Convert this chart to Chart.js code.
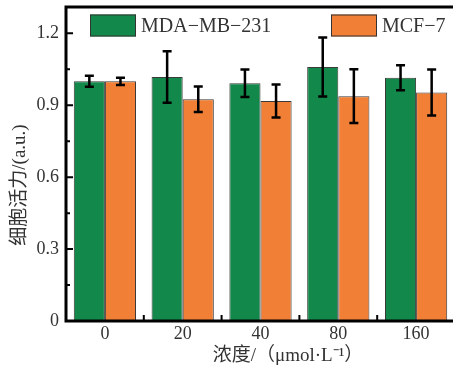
<!DOCTYPE html>
<html>
<head>
<meta charset="utf-8">
<script src="https://cdn.jsdelivr.net/npm/chart.js@4/dist/chart.umd.min.js"></script>
<style>
  html, body { margin: 0; padding: 0; background: #fff; overflow: hidden; }
  #wrap { width: 453px; height: 369px; overflow: hidden; }
  canvas { display: block; }
</style>
</head>
<body>
<div id="wrap"><canvas id="c" width="458" height="369"></canvas></div>
<script>
// Concentrations (µmol/L) and cell viability for each cell line
const categories = ['0', '20', '40', '80', '160'];
const seriesNames = ['MDA\u2212MB\u2212231', 'MCF\u22127'];
const mdaValues = [1.000, 1.018, 0.992, 1.060, 1.015];
const mdaErrors = [0.023, 0.107, 0.057, 0.123, 0.052];
const mcfValues = [1.000, 0.925, 0.918, 0.938, 0.953];
const mcfErrors = [0.015, 0.053, 0.069, 0.112, 0.096];
const yTicks = [0, 0.3, 0.6, 0.9, 1.2];
const yTickLabels = ['0', '0.3', '0.6', '0.9', '1.2'];
const yMinorTicks = [0.15, 0.45, 0.75, 1.05];
const xTitle = '浓度/（μmol·L⁻¹）';
const yTitle = '细胞活力/(a.u.)';

const GREEN = '#12894a';
const ORANGE = '#f17f36';
const TEXT = '#333333';
const FONT = "'Liberation Serif', 'Noto Sans CJK SC', serif";

const errorSets = [mdaErrors, mcfErrors];

// Error bars on top of each bar
const errorBars = {
  id: 'errorBars',
  afterDatasetsDraw(chart) {
    const { ctx } = chart;
    const y = chart.scales.y;
    ctx.save();
    ctx.strokeStyle = '#000';
    ctx.lineWidth = 2.5;
    chart.data.datasets.forEach((ds, i) => {
      const meta = chart.getDatasetMeta(i);
      meta.data.forEach((bar, j) => {
        const v = ds.data[j], e = errorSets[i][j];
        const top = y.getPixelForValue(v + e);
        const bot = y.getPixelForValue(v - e);
        ctx.beginPath();
        ctx.moveTo(bar.x, top); ctx.lineTo(bar.x, bot);
        ctx.moveTo(bar.x - 4.5, top); ctx.lineTo(bar.x + 4.5, top);
        ctx.moveTo(bar.x - 4.5, bot); ctx.lineTo(bar.x + 4.5, bot);
        ctx.stroke();
      });
    });
    ctx.restore();
  }
};

// Plot frame, inward ticks, in-plot legend and axis titles
const decorations = {
  id: 'decorations',
  afterDraw(chart) {
    const { ctx, chartArea: a } = chart;
    const x = chart.scales.x, y = chart.scales.y;
    ctx.save();
    ctx.strokeStyle = '#000';
    ctx.lineWidth = 2;
    ctx.beginPath();
    yTicks.forEach(v => {
      const p = y.getPixelForValue(v);
      ctx.moveTo(a.left, p); ctx.lineTo(a.left + 7, p);
    });
    yMinorTicks.forEach(v => {
      const p = y.getPixelForValue(v);
      ctx.moveTo(a.left, p); ctx.lineTo(a.left + 4, p);
    });
    for (let i = 0; i < categories.length - 1; i++) {
      const p = (x.getPixelForValue(i) + x.getPixelForValue(i + 1)) / 2;
      ctx.moveTo(p, a.bottom); ctx.lineTo(p, a.bottom - 6);
    }
    ctx.stroke();

    ctx.lineWidth = 3;
    ctx.beginPath();
    ctx.moveTo(a.left, a.top); ctx.lineTo(a.right, a.top);
    ctx.lineTo(a.right, a.bottom); ctx.lineTo(a.left, a.bottom);
    ctx.closePath();
    ctx.stroke();

    // legend
    const items = [
      { x: a.left + 24, color: GREEN, text: seriesNames[0] },
      { x: a.left + 265, color: ORANGE, text: seriesNames[1] }
    ];
    ctx.lineWidth = 1;
    ctx.font = '20px ' + FONT;
    ctx.textBaseline = 'alphabetic';
    ctx.textAlign = 'left';
    items.forEach(it => {
      ctx.fillStyle = it.color;
      ctx.fillRect(it.x, a.top + 7.5, 46, 22);
      ctx.strokeStyle = '#333';
      ctx.strokeRect(it.x + 0.5, a.top + 8, 45, 21);
      ctx.fillStyle = TEXT;
      ctx.fillText(it.text, it.x + 51, a.top + 25);
    });

    // axis titles
    ctx.fillStyle = TEXT;
    ctx.font = '19px ' + FONT;
    ctx.textAlign = 'center';
    ctx.textBaseline = 'middle';
    ctx.fillText(xTitle, a.left + 222, a.bottom + 35);

    ctx.save();
    ctx.translate(20, (a.top + a.bottom) / 2 + 21);
    ctx.rotate(-Math.PI / 2);
    ctx.font = '19px ' + FONT;
    ctx.fillText(yTitle, 0, 0);
    ctx.restore();
    ctx.restore();
  }
};

function noEdgePadding(s) {
  s.paddingTop = 0; s.paddingBottom = 0;
  s.paddingLeft = 0; s.paddingRight = 0;
}

new Chart(document.getElementById('c'), {
  type: 'bar',
  data: {
    labels: categories,
    datasets: [
      { label: seriesNames[0], data: mdaValues, backgroundColor: GREEN,
        borderColor: '#3a3a3a', borderWidth: 1 },
      { label: seriesNames[1], data: mcfValues, backgroundColor: ORANGE,
        borderColor: '#3a3a3a', borderWidth: 1 }
    ]
  },
  options: {
    responsive: false,
    animation: false,
    devicePixelRatio: 1,
    layout: { padding: { top: 7, right: 3, left: 0, bottom: 0 } },
    datasets: { bar: { categoryPercentage: 0.8, barPercentage: 1.0 } },
    plugins: { legend: { display: false }, tooltip: { enabled: false } },
    scales: {
      x: {
        grid: { display: false, drawTicks: false },
        border: { display: false },
        ticks: { color: TEXT, font: { family: FONT, size: 18 }, padding: 2, maxRotation: 0 },
        afterFit(s) { s.height = 48; noEdgePadding(s); }
      },
      y: {
        min: 0,
        max: 1.31,
        grid: { display: false, drawTicks: false },
        border: { display: false },
        afterBuildTicks(s) { s.ticks = yTicks.map(v => ({ value: v })); },
        ticks: {
          color: TEXT,
          font: { family: FONT, size: 18 },
          padding: 7,
          callback: (v, i) => yTickLabels[i]
        },
        afterFit(s) { s.width = 66; noEdgePadding(s); }
      }
    }
  },
  plugins: [errorBars, decorations]
});
</script>
</body>
</html>
